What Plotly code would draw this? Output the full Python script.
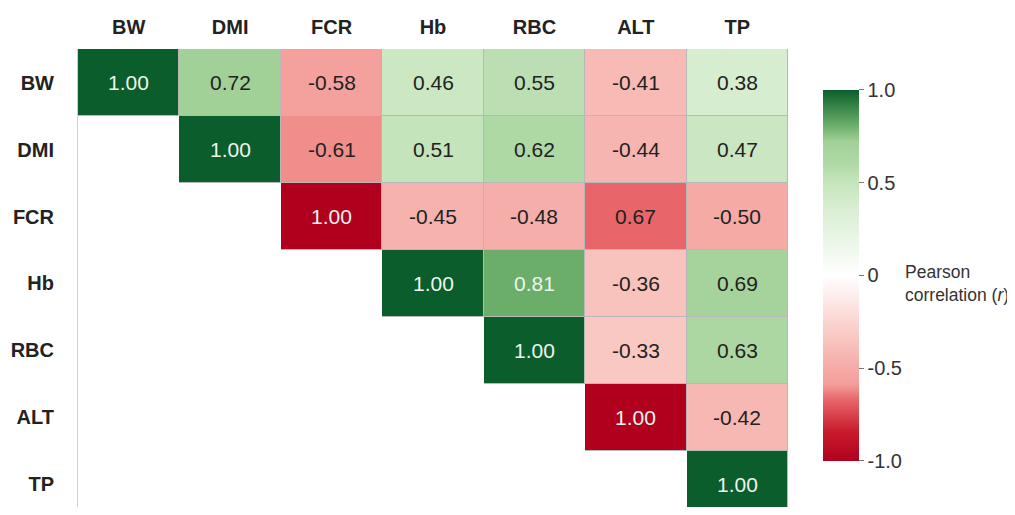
import plotly.graph_objects as go

labels = ["BW", "DMI", "FCR", "Hb", "RBC", "ALT", "TP"]

# Printed correlation coefficients (upper triangle; None = blank)
printed_r = [
    [1.00, 0.72, -0.58, 0.46, 0.55, -0.41, 0.38],
    [None, 1.00, -0.61, 0.51, 0.62, -0.44, 0.47],
    [None, None, 1.00, -0.45, -0.48, 0.67, -0.50],
    [None, None, None, 1.00, 0.81, -0.36, 0.69],
    [None, None, None, None, 1.00, -0.33, 0.63],
    [None, None, None, None, None, 1.00, -0.42],
    [None, None, None, None, None, None, 1.00],
]

# Values the cell colours represent (as shown in the picture)
color_r = [
    [1.00, 0.72, -0.58, 0.46, 0.55, -0.41, 0.38],
    [None, 1.00, -0.61, 0.51, 0.62, -0.44, 0.47],
    [None, None, -1.00, -0.45, -0.48, -0.67, -0.50],
    [None, None, None, 1.00, 0.81, -0.36, 0.69],
    [None, None, None, None, 1.00, -0.33, 0.63],
    [None, None, None, None, None, -1.00, -0.42],
    [None, None, None, None, None, None, 1.00],
]

cbar_ticks = [-1.0, -0.5, 0.0, 0.5, 1.0]
cbar_ticktext = ["-1.0", "-0.5", "0", "0.5", "1.0"]

colorscale = [
    [0.0, "#b0001e"],
    [0.08, "#c81c2c"],
    [0.165, "#e8666a"],
    [0.195, "#f08e8c"],
    [0.21, "#f4a09c"],
    [0.25, "#f5aaa6"],
    [0.335, "#f9c8c2"],
    [0.5, "#ffffff"],
    [0.69, "#d6edcf"],
    [0.75, "#c6e5bd"],
    [0.8, "#b0d9a6"],
    [0.86, "#a2d197"],
    [0.905, "#6bae69"],
    [1.0, "#0b5e2b"],
]

FONT = "Liberation Sans, Arial, sans-serif"
n = len(labels)
idx = list(range(n))

# border layer (gray under the gapped cells)
border_z = [[(1 if v is not None else None) for v in row] for row in color_r]

fig = go.Figure()
fig.add_trace(go.Heatmap(
    x=idx, y=idx, z=border_z,
    colorscale=[[0, "#b8b8b8"], [1, "#b8b8b8"]],
    showscale=False, hoverinfo="skip",
))
fig.add_trace(go.Heatmap(
    x=idx, y=idx, z=color_r,
    zmin=-1, zmax=1,
    colorscale=colorscale,
    xgap=1, ygap=1,
    hoverinfo="skip",
    colorbar=dict(
        x=1.0493, xanchor="left", xpad=0,
        y=0.5055, yanchor="middle", ypad=0,
        len=371, lenmode="pixels",
        thickness=36, thicknessmode="pixels",
        outlinewidth=0,
        tickvals=cbar_ticks, ticktext=cbar_ticktext,
        ticks="outside", ticklen=5, tickcolor="#777777",
        tickfont=dict(family=FONT, size=20, color="#333333"),
    ),
))

annotations = []
for i in range(n):
    for j in range(n):
        v = printed_r[i][j]
        if v is None:
            continue
        c = color_r[i][j]
        col = "#eef4ee" if abs(c) > 0.75 else "#222222"
        annotations.append(dict(
            x=j, y=i, xref="x", yref="y", text=f"{v:.2f}", showarrow=False,
            font=dict(family=FONT, size=21, color=col),
        ))

annotations.append(dict(
    x=1.1620, y=0.487, xref="paper", yref="paper", xanchor="left", yanchor="middle",
    align="left", showarrow=False,
    text="Pearson<br>correlation (<i>r</i>)",
    font=dict(family=FONT, size=17.5, color="#333333"),
))

fig.update_layout(
    width=1007, height=499,
    margin=dict(l=70, r=227, t=41, b=0, autoexpand=False),
    paper_bgcolor="white", plot_bgcolor="white",
    annotations=annotations,
    font=dict(family=FONT),
)
fig.update_xaxes(
    side="top", tickmode="array", tickvals=idx, ticktext=labels,
    range=[-0.5, n - 0.5], showgrid=False, zeroline=False, showline=False,
    ticks="", ticklabelstandoff=10, automargin=False,
    tickfont=dict(family=FONT, size=20, color="#222222", weight="bold"),
)
fig.update_yaxes(
    tickmode="array", tickvals=idx, ticktext=labels,
    range=[6.336, -0.5], showgrid=False, zeroline=False,
    showline=True, linecolor="#d0d0d0", linewidth=1,
    ticks="", ticklabelstandoff=19, automargin=False,
    tickfont=dict(family=FONT, size=20, color="#222222", weight="bold"),
)

fig.write_html("out.html")
